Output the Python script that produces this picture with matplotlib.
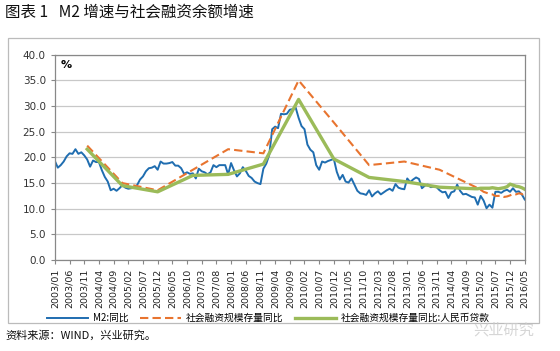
# M2 vs social financing stock growth, recreated chart
import matplotlib
matplotlib.use("Agg")
import matplotlib.pyplot as plt
from matplotlib.patches import Rectangle

plt.rcParams['font.family'] = ['Noto Sans CJK SC', 'DejaVu Sans']

# monthly M2 yoy, 2003/01 .. 2016/05
m2 = [19.3, 18.0, 18.5, 19.2, 20.2, 20.8, 20.7, 21.6, 20.7, 21.0, 20.4, 19.6,
      18.2, 19.4, 19.1, 19.1, 17.5, 16.2, 15.3, 13.6, 13.9, 13.5, 14.0, 14.6,
      14.1, 13.9, 14.0, 14.1, 14.6, 15.7, 16.3, 17.3, 17.9, 18.0, 18.3, 17.6,
      19.2, 18.8, 18.8, 18.9, 19.1, 18.4, 18.4, 17.9, 16.8, 17.1, 16.8, 16.9,
      15.9, 17.8, 17.3, 17.1, 16.7, 17.1, 18.5, 18.1, 18.5, 18.5, 18.5, 16.7,
      18.9, 17.5, 16.3, 16.9, 18.1, 17.4, 16.4, 16.0, 15.3, 15.0, 14.8, 17.8,
      18.8, 20.5, 25.5, 26.0, 25.7, 28.5, 28.4, 28.5, 29.3, 29.4, 29.7, 27.7,
      26.1, 25.5, 22.5, 21.5, 21.0, 18.5, 17.6, 19.2, 19.0, 19.3, 19.5, 19.7,
      17.2, 15.7, 16.6, 15.3, 15.1, 15.9, 14.7, 13.5, 13.0, 12.9, 12.7, 13.6,
      12.4, 13.0, 13.4, 12.8, 13.2, 13.6, 13.9, 13.5, 14.8, 14.1, 13.9, 13.8,
      15.9, 15.2, 15.7, 16.1, 15.8, 14.0, 14.5, 14.7, 14.2, 14.3, 14.2, 13.6,
      13.2, 13.3, 12.1, 13.2, 13.4, 14.7, 13.5, 12.8, 12.9, 12.6, 12.3, 12.2,
      10.8, 12.5, 11.6, 10.1, 10.8, 10.2, 13.3, 13.3, 13.1, 13.5, 13.7, 13.3,
      14.0, 13.3, 13.4, 12.8, 11.8]

# social financing series: year-end points until 2014, monthly from 2015
sf_months = [11, 23, 35, 47, 59, 71, 83, 95, 107, 119, 131, 143,
             144, 145, 146, 147, 148, 149, 150, 151, 152, 153, 154, 155,
             156, 157, 158, 159, 160]
sf_total = [22.3, 15.0, 13.6, 17.6, 21.6, 20.8, 35.0, 26.8, 18.5, 19.2, 17.6, 14.3,
            14.0, 13.7, 13.3, 13.1, 12.9, 12.8, 12.5, 12.5, 12.6, 12.3, 12.4, 12.6,
            12.9, 12.8, 13.0, 12.9, 12.3]
sf_loans = [21.6, 14.5, 13.3, 16.5, 16.7, 18.7, 31.3, 19.7, 16.1, 15.3, 14.2, 13.9,
            13.9, 14.0, 14.0, 14.0, 14.0, 14.1, 14.0, 13.9, 14.0, 14.1, 14.3, 14.8,
            14.6, 14.4, 14.3, 14.1, 13.8]

tick_labels = ["2003/01", "2003/06", "2003/11", "2004/04", "2004/09", "2005/02",
               "2005/07", "2005/12", "2006/05", "2006/10", "2007/03", "2007/08",
               "2008/01", "2008/06", "2008/11", "2009/04", "2009/09", "2010/02",
               "2010/07", "2010/12", "2011/05", "2011/10", "2012/03", "2012/08",
               "2013/01", "2013/06", "2013/11", "2014/04", "2014/09", "2015/02",
               "2015/07", "2015/12", "2016/05"]

fig = plt.figure(figsize=(5.6, 3.51), dpi=100)
ax = fig.add_axes([0.098, 0.259, 0.839, 0.585])

ax.plot(range(len(m2)), m2, color="#1F6DB0", linewidth=1.4, label="M2:同比")
ax.plot(sf_months, sf_total, color="#E8742F", linewidth=1.5, linestyle=(0, (4, 2)),
        label="社会融资规模存量同比")
ax.plot(sf_months, sf_loans, color="#9BBB59", linewidth=2.4,
        label="社会融资规模存量同比:人民币贷款")

ax.set_xlim(0, 160)
ax.set_ylim(0, 40)
ax.set_yticks(range(0, 41, 5))
ax.set_yticklabels([f"{v:.1f}" for v in range(0, 41, 5)], fontsize=7.5, color="#333333",
                   family="DejaVu Sans")
ax.set_xticks(range(0, 161, 5))
ax.set_xticklabels(tick_labels, rotation=90, fontsize=6.8, color="#222222",
                   family="DejaVu Sans")
ax.tick_params(axis="both", length=3, color="#888888", width=0.8)
ax.grid(axis="y", color="#C8C8C8", linewidth=0.9)
ax.set_axisbelow(True)
for s in ax.spines.values():
    s.set_color("#888888")
    s.set_linewidth(0.9)

ax.text(0.012, 0.975, "%", transform=ax.transAxes, fontsize=8, fontweight="bold",
        va="top", ha="left", family="DejaVu Sans")

ax.legend(loc="upper center", bbox_to_anchor=(0.455, -0.215), ncol=3, frameon=False,
          fontsize=7, handlelength=4.2, columnspacing=1.2, handletextpad=0.5)

# outer frame
fig.patches.append(Rectangle((8 / 560, 1 - 323 / 351), 531 / 560, 285 / 351,
                             transform=fig.transFigure, fill=False,
                             edgecolor="#BBBBBB", linewidth=0.9))

fig.text(0.009, 0.965, "图表 1   M2 增速与社会融资余额增速", fontsize=11.2, va="center",
         ha="left", color="#111111")
fig.text(0.009, 0.045, "资料来源：WIND，兴业研究。", fontsize=8, va="center",
         ha="left", color="#111111")
fig.text(0.845, 0.06, "兴业研究", fontsize=11, va="center", ha="left",
         color="#CCCCCC", alpha=0.8)

fig.savefig("out.png", dpi=100)
